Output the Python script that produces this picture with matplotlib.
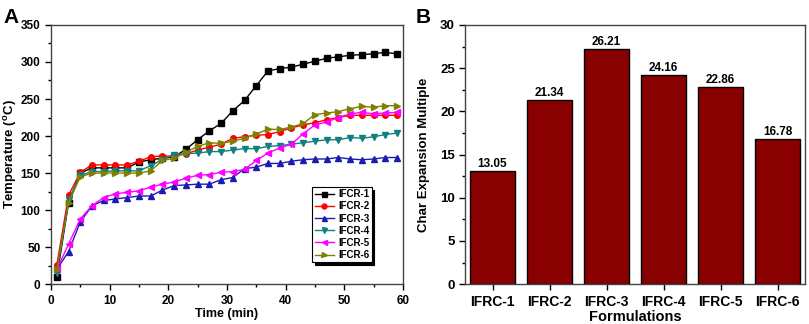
import matplotlib
matplotlib.use("Agg")
import matplotlib.pyplot as plt
from matplotlib.ticker import MultipleLocator

plt.rcParams['font.family'] = ['Liberation Sans', 'DejaVu Sans']
plt.rcParams['font.weight'] = 'bold'

time_min = [1, 3, 5, 7, 9, 11, 13, 15, 17, 19, 21, 23, 25, 27, 29, 31, 33, 35, 37, 39,
            41, 43, 45, 47, 49, 51, 53, 55, 57, 59]
ifcr1 = [10, 110, 150, 157, 157, 157, 157, 165, 168, 170, 172, 182, 195, 207, 217, 234, 248, 268, 288, 291,
         293, 297, 301, 305, 307, 309, 310, 311, 313, 311]
ifcr2 = [26, 120, 151, 161, 161, 161, 161, 166, 172, 173, 173, 176, 181, 185, 189, 197, 199, 201, 202, 206,
         211, 215, 218, 222, 225, 228, 228, 228, 228, 228]
ifcr3 = [20, 44, 84, 106, 113, 115, 117, 119, 119, 127, 133, 134, 135, 135, 141, 144, 156, 158, 163, 163,
         166, 168, 169, 169, 171, 169, 168, 169, 171, 171]
ifcr4 = [15, 114, 147, 152, 152, 153, 153, 153, 160, 168, 175, 176, 177, 179, 179, 181, 183, 183, 186, 187,
         189, 191, 193, 195, 195, 198, 197, 199, 202, 204]
ifcr5 = [20, 54, 88, 106, 117, 122, 124, 126, 131, 135, 138, 143, 147, 148, 151, 152, 155, 167, 177, 184,
         189, 203, 215, 219, 225, 230, 232, 230, 231, 232]
ifcr6 = [20, 110, 145, 150, 150, 150, 150, 150, 153, 167, 170, 178, 186, 191, 190, 193, 197, 203, 209, 209,
         212, 217, 229, 231, 233, 237, 240, 239, 241, 241]
series_names = ['IFCR-1', 'IFCR-2', 'IFCR-3', 'IFCR-4', 'IFCR-5', 'IFCR-6']

formulations = ['IFRC-1', 'IFRC-2', 'IFRC-3', 'IFRC-4', 'IFRC-5', 'IFRC-6']
bar_heights = [13.05, 21.34, 27.2, 24.16, 22.86, 16.78]
bar_labels = ['13.05', '21.34', '26.21', '24.16', '22.86', '16.78']

fig = plt.figure(figsize=(8.09, 3.24), dpi=100)

# Panel A
axA = fig.add_axes([0.063, 0.123, 0.435, 0.800])
styles = [('black', 's'), ('#ff0000', 'o'), ('#1c1cb0', '^'), ('#108080', 'v'),
          ('#ff00ff', '<'), ('#808000', '>')]
for ys, name, (c, m) in zip([ifcr1, ifcr2, ifcr3, ifcr4, ifcr5, ifcr6], series_names, styles):
    axA.plot(time_min, ys, color=c, marker=m, markersize=4, linewidth=1.0, label=name)
axA.set_xlim(0, 60)
axA.set_ylim(0, 350)
axA.xaxis.set_major_locator(MultipleLocator(10))
axA.xaxis.set_minor_locator(MultipleLocator(5))
axA.yaxis.set_major_locator(MultipleLocator(50))
axA.yaxis.set_minor_locator(MultipleLocator(25))
axA.tick_params(axis='both', which='major', direction='out', length=4, width=1, labelsize=8.5)
axA.tick_params(axis='both', which='minor', direction='out', length=2.5, width=1)
axA.set_xlabel('Time (min)', fontsize=9, fontweight='bold', labelpad=1)
axA.set_ylabel('Temperature ($\\mathregular{^o}$C)', fontsize=9.5, fontweight='bold', labelpad=1)
for s in axA.spines.values():
    s.set_linewidth(1.0)
    s.set_color('#444444')
leg = axA.legend(loc='lower right', bbox_to_anchor=(0.925, 0.065), fontsize=7, frameon=True,
                 fancybox=False, edgecolor='black', handlelength=2.0, handletextpad=0.4,
                 borderpad=0.25, labelspacing=0.22, shadow={'color': 'black', 'alpha': 1.0},
                 markerscale=0.9)
leg.get_frame().set_linewidth(0.8)
for t in leg.get_texts():
    t.set_fontweight('bold')
fig.text(0.004, 0.93, 'A', fontsize=15, fontweight='bold')

# Panel B
axB = fig.add_axes([0.575, 0.123, 0.420, 0.800])
xpos = list(range(len(formulations)))
bars = axB.bar(xpos, bar_heights, width=0.8, color='#880000', edgecolor='black', linewidth=1.0)
for b, lab in zip(bars, bar_labels):
    axB.text(b.get_x() + b.get_width() / 2, b.get_height() + 0.12, lab, ha='center', va='bottom',
             fontsize=8.5, fontweight='bold')
axB.set_xlim(-0.48, 5.48)
axB.set_ylim(0, 30)
axB.set_xticks(xpos)
axB.set_xticklabels(formulations)
axB.yaxis.set_major_locator(MultipleLocator(5))
axB.yaxis.set_minor_locator(MultipleLocator(2.5))
axB.tick_params(axis='x', which='major', direction='out', length=4, width=1, labelsize=10)
axB.tick_params(axis='y', which='major', direction='out', length=4, width=1, labelsize=9.5)
axB.tick_params(axis='y', which='minor', direction='out', length=2.5, width=1)
axB.set_xlabel('Formulations', fontsize=10.5, fontweight='bold', labelpad=1)
axB.set_ylabel('Char Expansion Multiple', fontsize=9.5, fontweight='bold', labelpad=7)
for s in axB.spines.values():
    s.set_linewidth(1.0)
    s.set_color('#444444')
fig.text(0.514, 0.93, 'B', fontsize=15, fontweight='bold')

fig.savefig('out.png', dpi=100)
